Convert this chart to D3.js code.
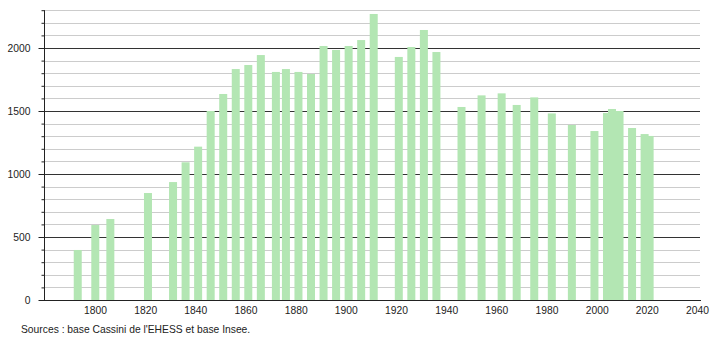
<!DOCTYPE html>
<html>
<head>
<meta charset="utf-8">
<script src="https://cdn.jsdelivr.net/npm/d3@7"></script>
<style>
  html, body { margin: 0; padding: 0; background: #ffffff; }
  svg { display: block; font-family: "Liberation Sans", Arial, sans-serif; }
</style>
</head>
<body>
<div id="chart"></div>
<script>
// ---- Data ----
const years = [1793, 1800, 1806, 1821, 1831, 1836, 1841, 1846, 1851, 1856,
  1861, 1866, 1872, 1876, 1881, 1886, 1891, 1896, 1901, 1906,
  1911, 1921, 1926, 1931, 1936, 1946, 1954, 1962, 1968, 1975,
  1982, 1990, 1999, 2004, 2006, 2009, 2014, 2019, 2021];
const population = [397, 595, 643, 849, 936, 1093, 1217, 1500, 1635, 1833,
  1865, 1944, 1810, 1833, 1810, 1794, 2016, 1984, 2016, 2063,
  2270, 1929, 2008, 2143, 1968, 1532, 1624, 1640, 1548, 1608,
  1481, 1389, 1341, 1484, 1516, 1500, 1365, 1317, 1302];
const xTickLabels = [1800, 1820, 1840, 1860, 1880, 1900, 1920, 1940, 1960, 1980, 2000, 2020, 2040];
const yMajorTicks = [0, 500, 1000, 1500, 2000];
const yMinorTicks = d3.range(0, 2301, 100);
const sourceText = "Sources : base Cassini de l'EHESS et base Insee.";

// ---- Layout ----
const W = 710, H = 340;
const FS = 10.3;
const svg = d3.select("#chart").append("svg").attr("width", W).attr("height", H);

const x = d3.scaleLinear().domain([1779.67, 2041.6]).range([44, 701]);
const y = d3.scaleLinear().domain([0, 2300]).range([300, 10.2]);
const barW = 8;

// gridlines
const grid = svg.append("g");
grid.selectAll("line.minor").data(yMinorTicks.filter(v => v % 500 !== 0)).join("line")
  .attr("x1", 44).attr("x2", 700)
  .attr("y1", d => Math.round(y(d)) + 0.5).attr("y2", d => Math.round(y(d)) + 0.5)
  .attr("stroke", "#cccccc").attr("stroke-width", 1);
grid.selectAll("line.major").data(yMajorTicks.filter(v => v > 0)).join("line")
  .attr("x1", 44).attr("x2", 700)
  .attr("y1", d => Math.round(y(d)) + 0.5).attr("y2", d => Math.round(y(d)) + 0.5)
  .attr("stroke", "#333333").attr("stroke-width", 1);

// bars
const data = years.map((yr, i) => ({ year: yr, value: population[i] }));
svg.append("g").selectAll("rect").data(data).join("rect")
  .attr("x", d => x(d.year) - barW / 2 + 0.3)
  .attr("width", barW)
  .attr("y", d => y(d.value))
  .attr("height", d => y(0) - y(d.value))
  .attr("fill", "#b3e6b3");

// y axis
const yAxisMinor = d3.axisLeft(y).tickValues(yMinorTicks).tickSize(3).tickFormat("");
const gyMinor = svg.append("g").attr("transform", "translate(44.5,0)").call(yAxisMinor);
gyMinor.select(".domain").remove();
gyMinor.selectAll(".tick line").attr("stroke", "#222");

const yAxis = d3.axisLeft(y).tickValues(yMajorTicks).tickSize(6).tickPadding(8).tickFormat(d3.format("d"));
const gy = svg.append("g").attr("transform", "translate(44.5,0)").call(yAxis);
gy.select(".domain").attr("stroke", "#222").attr("d", `M0,${y(2300)}V${y(0)}`);
gy.selectAll(".tick line").attr("stroke", "#222");
gy.selectAll(".tick text").attr("fill", "#222").attr("font-size", FS)
  .attr("font-family", "Liberation Sans, Arial, sans-serif");

// x axis
const xAxis = d3.axisBottom(x).tickValues(xTickLabels).tickSize(0).tickPadding(6).tickFormat(d3.format("d"));
const gx = svg.append("g").attr("transform", "translate(0,300.5)").call(xAxis);
gx.select(".domain").attr("stroke", "#222").attr("d", "M39,0H701");
gx.selectAll(".tick text").attr("fill", "#222").attr("font-size", FS)
  .attr("font-family", "Liberation Sans, Arial, sans-serif");

// source
svg.append("text").attr("x", 21).attr("y", 333)
  .attr("font-size", FS).attr("fill", "#222")
  .text(sourceText);
</script>
</body>
</html>
